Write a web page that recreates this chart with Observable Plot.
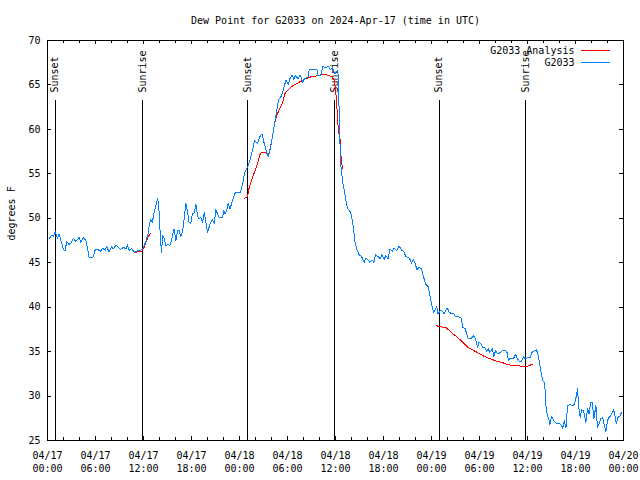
<!DOCTYPE html>
<html><head><meta charset="utf-8">
<script src="https://cdn.jsdelivr.net/npm/d3@7"></script>
<script src="https://cdn.jsdelivr.net/npm/@observablehq/plot@0.6"></script>
<style>
body{margin:0;background:#fff}
svg{shape-rendering:crispEdges}
</style>
</head><body><div id="chart"></div>
<script>
const title = "Dew Point for G2033 on 2024-Apr-17 (time in UTC)";
const yLabel = "degrees F";
const tickHours = [0, 6, 12, 18, 24, 30, 36, 42, 48, 54, 60, 66, 72];
const tickLabels = ["04/17\n00:00","04/17\n06:00","04/17\n12:00","04/17\n18:00","04/18\n00:00","04/18\n06:00","04/18\n12:00","04/18\n18:00","04/19\n00:00","04/19\n06:00","04/19\n12:00","04/19\n18:00","04/20\n00:00"];
const minorTickHours = [2,4,8,10,14,16,20,22,26,28,32,34,38,40,44,46,50,52,56,58,62,64,68,70];
const yTicks = [25, 30, 35, 40, 45, 50, 55, 60, 65, 70];
const eventHours = [0.95, 11.87, 25.0, 35.87, 48.95, 59.75];
const eventLabels = ["Sunset", "Sunrise", "Sunset", "Sunrise", "Sunset", "Sunrise"];
const seriesNames = ["G2033 Analysis", "G2033"];
const seriesColors = ["#ff0000", "#0080ff"];

// observed dew point (hours since 04/17 00:00 UTC)
const obsHours = [0.2,0.5,0.75,0.95,1.25,1.45,1.75,2.0,2.2,2.4,2.7,3.0,3.25,3.45,3.75,3.95,4.15,4.5,4.8,5.0,5.2,5.5,5.75,5.9,6.25,6.6,6.9,7.2,7.4,7.7,8.0,8.25,8.55,8.8,9.15,9.5,9.8,10.0,10.2,10.5,10.75,11.0,11.3,11.65,11.9,12.15,12.4,12.6,12.75,12.9,13.1,13.3,13.55,13.75,13.9,14.0,14.15,14.25,14.4,14.6,14.8,15.1,15.3,15.6,15.8,16.05,16.25,16.45,16.65,16.9,17.1,17.3,17.5,17.7,17.9,18.1,18.3,18.55,18.75,18.95,19.15,19.4,19.6,19.8,20.0,20.2,20.4,20.6,20.85,21.05,21.25,21.45,21.65,21.9,22.0,22.2,22.4,22.6,22.8,23.0,23.25,23.5,23.75,24.1,24.4,24.6,25.0,25.3,25.6,25.9,26.25,26.6,26.8,27.1,27.4,27.6,27.8,28.0,28.25,28.45,28.65,28.9,29.15,29.4,29.6,29.8,30.1,30.3,30.6,30.8,31.0,31.3,31.6,31.9,32.15,32.6,32.7,33.1,33.7,33.75,34.2,34.4,34.8,35.1,35.4,35.6,35.9,36.2,36.3,36.4,36.55,36.65,36.9,37.1,37.3,37.5,37.8,38.0,38.25,38.4,38.65,38.95,39.25,39.6,39.8,40.1,40.3,40.6,40.8,41.0,41.3,41.6,41.8,42.1,42.3,42.6,42.8,43.1,43.3,43.65,43.95,44.25,44.5,44.8,45.1,45.3,45.5,45.75,45.95,46.2,46.45,46.75,47.0,47.3,47.6,47.8,48.0,48.25,48.4,48.65,48.8,49.1,49.4,49.6,49.8,50.0,50.2,50.5,50.8,51.0,51.45,51.7,51.9,52.2,52.4,52.6,52.9,53.1,53.3,53.5,53.75,53.95,54.15,54.4,54.65,54.9,55.1,55.3,55.6,55.8,56.0,56.3,56.6,56.9,57.3,57.5,57.6,57.8,58.25,58.5,58.75,58.95,59.25,59.5,59.7,60.0,60.3,60.55,60.8,61.1,61.25,61.45,61.65,61.9,62.1,62.2,62.3,62.5,62.7,62.8,63.0,63.25,63.45,63.65,63.95,64.15,64.4,64.6,64.8,65.0,65.3,65.75,66.0,66.25,66.45,66.6,66.75,67.0,67.3,67.5,67.7,67.9,68.1,68.3,68.55,68.75,68.95,69.15,69.4,69.6,69.8,70.0,70.2,70.4,70.75,70.9,71.1,71.3,71.6,71.75];
const obsDew = [47.7,48.1,48.0,48.5,47.7,48.25,47.3,46.5,46.3,47.4,47.05,47.3,47.75,47.4,47.6,47.9,47.3,47.8,47.5,46.6,45.6,45.55,45.7,46.4,46.5,46.3,46.6,46.4,46.85,46.2,46.8,46.55,47.0,46.75,46.5,46.75,46.55,47.0,46.4,46.6,46.3,46.2,46.4,46.4,46.6,47.05,47.7,48.4,49.4,49.9,49.55,50.5,51.4,52.2,51.6,49.75,47.3,46.2,48.1,47.7,46.9,47.1,46.9,47.9,48.8,47.5,48.6,48.7,47.9,48.6,50.1,51.7,50.7,49.55,49.4,50.5,50.5,51.55,50.3,49.9,50.1,49.55,50.7,49.55,48.4,49.0,49.55,49.9,49.4,51.0,50.5,50.1,50.1,50.1,50.9,50.5,50.9,51.7,51.05,51.6,52.4,52.9,52.9,52.9,53.9,55.0,55.75,56.5,57.6,58.75,58.4,59.3,59.5,58.4,57.4,56.9,57.6,58.6,59.9,61.0,62.1,63.4,63.6,64.2,64.9,65.5,65.1,65.7,66.1,65.6,66.1,65.7,66.1,65.3,65.7,65.9,66.7,66.7,66.7,66.1,66.1,67.1,66.9,67.1,66.7,67.0,66.25,66.6,66.6,64.0,58.75,56.1,54.0,53.1,52.0,51.1,50.8,50.3,48.9,47.5,46.55,45.9,45.7,45.05,45.55,45.25,45.05,45.3,45.05,45.9,45.7,45.45,45.9,45.4,45.8,45.45,46.55,46.3,46.6,46.4,46.9,46.4,46.3,45.7,45.6,45.4,44.95,45.4,44.9,44.2,44.5,44.3,43.4,42.55,42.3,41.3,40.4,39.4,39.6,40.1,39.25,39.6,39.55,39.25,39.7,39.9,39.4,39.3,39.25,38.9,38.9,38.8,37.75,37.6,37.0,36.45,36.45,36.6,36.8,36.45,35.5,36.05,35.9,35.5,35.5,35.05,35.3,34.9,35.3,34.45,35.1,34.75,34.9,35.1,35.1,34.8,34.0,34.2,34.2,34.7,34.2,33.9,33.9,34.4,34.2,34.3,34.3,34.9,35.05,35.2,34.9,34.0,32.9,31.75,31.55,30.7,28.9,27.8,27.25,26.8,27.7,27.3,27.05,26.9,26.95,26.8,26.4,27.25,26.4,28.9,29.05,28.9,29.5,30.8,28.4,27.55,28.45,28.4,27.05,28.55,28.0,29.3,29.3,27.45,28.9,26.5,26.9,27.45,27.6,26.7,25.95,27.25,27.6,27.8,28.45,28.0,26.9,27.6,27.8,28.2];

// analysis dew point (null = gap between segments)
const anaHours = [10.8,11.45,11.8,12.1,12.3,12.6,12.85,null,24.65,25.0,25.2,25.5,25.8,26.25,26.6,26.8,27.3,27.5,27.7,27.9,28.1,28.3,28.55,28.75,29.1,29.4,29.65,30.0,30.4,31.05,31.65,32.3,32.9,33.5,34.15,34.8,35.2,35.55,35.85,36.05,36.15,36.25,36.35,36.6,36.65,36.8,36.9,null,48.65,49.15,49.8,50.2,50.6,51.15,51.9,52.5,53.1,53.75,54.4,55.0,55.6,56.25,56.9,57.5,58.1,58.75,59.4,59.8,60.2,60.6];
const anaDew = [46.1,46.3,46.3,46.75,47.3,47.95,48.3,null,52.25,52.4,53.4,54.2,55.0,56.1,57.3,57.4,57.35,57.25,57.25,58.2,59.1,60.25,61.2,61.75,62.5,63.05,64.0,64.4,64.75,65.1,65.4,65.7,65.9,66.0,66.15,66.15,66.05,65.9,65.5,64.0,62.9,61.4,59.9,58.75,57.25,56.1,55.55,null,37.9,37.8,37.7,37.4,37.05,36.7,36.05,35.5,35.2,34.9,34.55,34.3,34.1,33.9,33.75,33.55,33.45,33.45,33.3,33.3,33.45,33.55];

const obs = obsHours.map((h, i) => ({h, v: obsDew[i]}));
const ana = anaHours.map((h, i) => ({h, v: anaDew[i]}));
const labelMap = new Map(tickHours.map((h, i) => [h, tickLabels[i]]));

const legendMarks = seriesNames.flatMap((name, i) => [
  Plot.text([name], {frameAnchor: "top-right", textAnchor: "end", lineAnchor: "middle", dx: -49, dy: 10 + 12 * i, fill: "black"}),
  Plot.ruleY([70], {dy: 10 + 12 * i, insetLeft: 534, insetRight: 13, stroke: seriesColors[i], strokeWidth: 1})
]);

const chart = Plot.plot({
  width: 640, height: 480,
  marginLeft: 47, marginRight: 17, marginTop: 40, marginBottom: 40,
  x: {domain: [0, 72], label: null},
  y: {domain: [25, 70], label: null},
  style: {fontFamily: "'DejaVu Sans Mono', monospace", fontSize: "10px", background: "white", color: "black"},
  marks: [
    Plot.ruleX(eventHours, {insetTop: 60, stroke: "black", strokeWidth: 1}),
    Plot.text(eventHours, {x: d => d, text: (d, i) => eventLabels[i], frameAnchor: "top", rotate: -90, textAnchor: "start", lineAnchor: "middle", dy: 52, fill: "black"}),
    Plot.line(ana, {x: "h", y: "v", stroke: seriesColors[0], strokeWidth: 1}),
    Plot.line(obs, {x: "h", y: "v", stroke: seriesColors[1], strokeWidth: 1}),
    Plot.frame({stroke: "black"}),
    Plot.ruleX(tickHours, {insetBottom: 396, stroke: "black"}),
    Plot.ruleX(tickHours, {insetTop: 396, stroke: "black"}),
    Plot.ruleX(minorTickHours, {insetBottom: 397, stroke: "black"}),
    Plot.ruleX(minorTickHours, {insetTop: 397, stroke: "black"}),
    Plot.ruleY(yTicks, {insetRight: 572, stroke: "black"}),
    Plot.ruleY(yTicks, {insetLeft: 572, stroke: "black"}),
    Plot.axisX(tickHours, {tickSize: 0, tickPadding: 10, tickFormat: h => labelMap.get(h), lineHeight: 1.25, label: null}),
    Plot.axisY(yTicks, {tickSize: 0, tickPadding: 7, label: null}),
    Plot.text([yLabel], {frameAnchor: "left", rotate: -90, dx: -36, fill: "black"}),
    Plot.text([title], {frameAnchor: "top", lineAnchor: "middle", dy: -20, fill: "black"}),
    ...legendMarks
  ]
});
document.getElementById("chart").append(chart);
</script>
</body></html>
